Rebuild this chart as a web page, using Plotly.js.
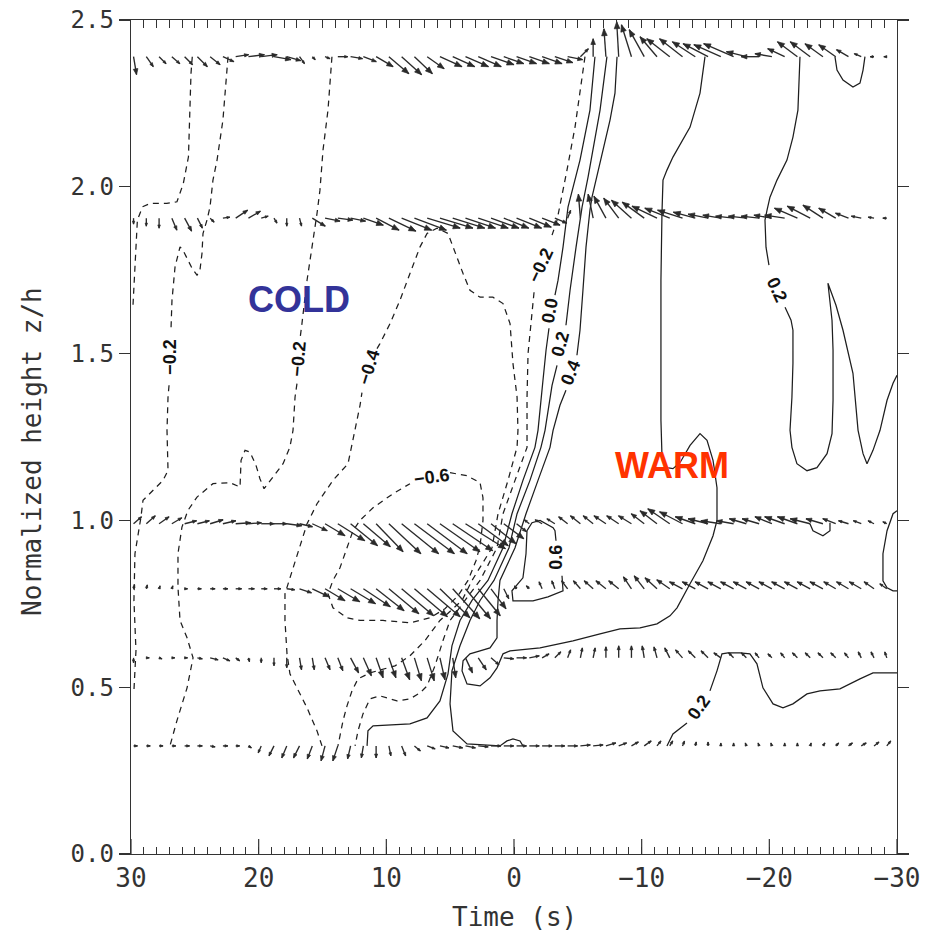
<!DOCTYPE html>
<html><head><meta charset="utf-8">
<script src="https://cdn.plot.ly/plotly-3.0.1.min.js"></script>
<style>body{margin:0;background:#fff}#chart{width:940px;height:938px}</style>
</head><body><div id="chart"></div>
<script>
// ---- vector field: sample times (s) and row heights (z/h) ----
const vecTime = [29.8,28.8,27.8,26.8,25.8,24.8,23.8,22.8,21.8,20.8,19.8,18.8,17.8,16.8,15.8,14.8,13.8,12.8,11.8,10.8,9.8,8.8,7.8,6.8,5.8,4.8,3.8,2.8,1.8,0.8,-0.2,-1.2,-2.2,-3.2,-4.2,-5.2,-6.2,-7.2,-8.2,-9.2,-10.2,-11.2,-12.2,-13.2,-14.2,-15.2,-16.2,-17.2,-18.2,-19.2,-20.2,-21.2,-22.2,-23.2,-24.2,-25.2,-26.2,-27.2,-28.2,-29.2];
const rowHeights = [2.39, 1.906, 0.99, 0.795, 0.588, 0.324];
// vector components (display units: u = along-plot to the right, w = upward)
const uA = [3,7,7,8,8,10,10,11,13,16,16,17,14,5,3,5,10,12,13,17,20,20,18,17,22,22,23,23,23,20,20,20,20,18,15,8,0,-2,-2,-10,-15,-17,-23,-23,-23,-25,-27,-30,-20,-18,-17,-17,-20,-20,-18,-17,-12,-7,-4,-3];
const wA = [-18,-10,-7,-7,-8,-10,-8,-5,2,2,2,-3,-4,-7,-3,-2,0,-2,-5,-10,-17,-18,-17,-12,-10,-10,-10,-10,-8,-7,-7,-7,-7,-6,-3,8,18,28,35,32,27,20,18,18,15,13,12,13,5,0,3,8,15,15,13,12,7,3,0,0];
const uB = [0,0,0,5,7,5,4,7,12,12,7,3,0,2,13,15,15,15,20,23,27,30,32,33,33,32,30,30,28,25,25,22,18,12,3,-2,-5,-12,-15,-20,-22,-25,-25,-25,-22,-20,-18,-18,-18,-18,-18,-20,-23,-23,-20,-17,-13,-10,-6,-4];
const wB = [-6,-8,-10,-12,-13,-10,-4,1,8,7,2,-5,-8,-8,-8,-3,-2,-3,-7,-12,-13,-12,-12,-10,-10,-10,-10,-10,-10,-10,-10,-9,-7,-5,8,24,24,22,20,18,16,12,10,8,6,4,3,2,2,2,3,3,10,12,13,10,5,2,1,0];
const uC = [8,9,10,10,12,12,13,13,15,13,13,13,15,13,15,20,27,27,27,27,32,37,40,40,40,40,40,30,25,20,10,-5,-7,-8,-9,-10,-10,-12,-12,-13,-13,-17,-22,-23,-20,-20,-20,-17,-17,-17,-17,-20,-20,-20,-17,-13,-10,-8,-6,-4];
const wC = [7,8,7,6,3,3,4,3,1,1,0,0,-2,-3,-7,-12,-17,-22,-23,-28,-30,-30,-30,-30,-28,-27,-25,-22,-20,-15,-8,4,4,5,7,8,8,8,8,8,10,13,15,12,7,5,3,3,5,5,7,7,7,5,5,5,3,3,3,2];
const uD = [1,1,1,1,3,4,5,5,6,6,6,7,8,12,17,20,22,25,27,28,30,32,33,33,30,27,25,22,15,5,-2,-3,-3,-3,-6,-7,-9,-10,-10,-8,-10,-12,-13,-13,-13,-13,-13,-13,-13,-13,-13,-13,-13,-13,-13,-12,-12,-12,-10,-7];
const wD = [4,4,3,3,0,0,0,0,0,0,0,0,-1,-4,-8,-12,-13,-15,-18,-22,-25,-27,-28,-28,-29,-30,-30,-27,-20,-10,3,3,7,8,8,8,8,8,8,12,13,11,9,7,7,7,7,7,7,7,7,7,7,7,7,7,7,7,7,5];
const uE = [0,3,3,3,3,5,8,7,4,1,0,0,0,2,2,5,5,8,8,7,7,8,7,7,5,3,7,8,8,10,10,10,7,6,3,2,2,0,0,0,-2,-3,-5,-7,-7,-7,-7,-5,-5,-4,-4,-4,-5,-5,-5,-5,-4,-3,-3,-2];
const wE = [-5,0,-1,0,0,-1,-2,-3,-3,-4,-5,-8,-10,-12,-12,-12,-13,-15,-18,-20,-20,-22,-23,-23,-22,-20,-15,-12,-7,-1,0,2,4,6,8,10,10,11,12,12,12,11,10,8,7,7,5,5,5,5,4,5,5,5,5,5,5,6,6,6];
const uF = [4,4,4,4,5,5,5,5,4,3,-3,-5,-5,-6,-5,-4,-5,-3,-2,0,2,4,6,8,9,10,10,10,10,10,10,10,10,10,10,10,10,10,8,7,7,4,3,2,1,0,0,0,-1,-1,-1,0,0,1,2,3,4,5,5,4];
const wF = [0,0,0,0,0,0,-1,0,0,-2,-7,-10,-12,-12,-13,-15,-15,-13,-12,-12,-10,-10,-5,-3,-2,-2,-2,-1,0,0,0,0,0,0,0,1,1,3,3,4,5,5,5,5,4,4,3,3,3,3,3,3,3,3,3,3,3,3,4,5];

// ---- contour lines (time s, z/h); null = gap for a label ----
// dashed (negative)
const c1t = [25.2,25.3,25.5,25.9,26.4,27.2,28.5,29.1,29.5,29.6,29.7,29.85];
const c1z = [2.39,2.34,2.09,2.01,1.955,1.95,1.95,1.94,1.90,1.82,1.72,1.64];
const c2t = [22.4,22.8,23.26,23.58,23.81,24.05,24.36,24.44,24.6,24.83,25.22,25.54,25.93,26.16,26.55,26.79,26.87,null,27.02,27.1,27.18,27.1,27.49,28.28,29.06,29.22,29.69,29.77,29.61,29.77];
const c2z = [2.39,2.20,2.08,2.02,1.94,1.90,1.86,1.80,1.75,1.735,1.756,1.78,1.81,1.82,1.76,1.66,1.57,null,1.405,1.37,1.27,1.15,1.12,1.09,1.06,1.01,0.90,0.76,0.61,0.49];
const c3t = [14.26,14.57,14.96,15.2,15.43,15.82,16.21,16.61,16.76,null,17.0,17.15,17.31,17.55,18.09,18.96,19.58,19.9,20.21,20.68,21.07,21.38,21.46,22.25,23.58,24.83,25.54,26.01,26.32,26.32,26.16,25.61,25.14,25.61,26.4,26.95];
const c3z = [2.39,2.23,2.11,1.99,1.92,1.82,1.72,1.59,1.545,null,1.41,1.37,1.27,1.22,1.17,1.125,1.095,1.125,1.165,1.205,1.21,1.18,1.10,1.113,1.11,1.07,1.03,0.98,0.90,0.80,0.70,0.648,0.588,0.498,0.40,0.324];
const c4t = [15.04,15.43,16.21,17.0,17.55,17.78,17.94,17.94,17.55,17.0,16.61,16.21,15.43,14.18,13.0,12.61,12.3,12.06,11.91,null,10.73,10.5,9.71,8.93,8.15,7.36,6.81,6.03,5.17,4.78,3.99,3.45,2.66,1.65,0.86,0.31,0.08,-0.24,-0.31,-0.24,0.47,1.25,1.72,3.29,4.07,5.8,6.97,8.15,9.32,11.28,12.22,12.69,13.08,13.39,13.79];
const c4z = [0.324,0.369,0.438,0.498,0.54,0.60,0.70,0.78,0.828,0.90,0.948,0.99,1.05,1.12,1.17,1.24,1.30,1.345,1.383,null,1.515,1.53,1.59,1.66,1.74,1.82,1.86,1.876,1.86,1.82,1.74,1.69,1.669,1.669,1.65,1.59,1.47,1.37,1.27,1.22,1.12,1.02,0.918,0.82,0.76,0.70,0.64,0.594,0.564,0.543,0.525,0.489,0.444,0.40,0.324];
const c5t = [5.01,3.68,2.66,2.43,2.43,2.66,2.98,3.6,4.39,5.41,6.58,8.15,10.26,12.06,13.08,14.18,14.57,14.18,13.63,13.08,12.61,12.06,11.04,9.48,8.15];
const c5z = [1.143,1.134,1.113,1.068,1.0,0.924,0.879,0.82,0.774,0.735,0.708,0.693,0.70,0.70,0.708,0.738,0.78,0.82,0.858,0.918,0.969,1.0,1.038,1.08,1.11];
const c6t = [-5.56,-5.17,-4.78,-4.15,-3.6,-3.37,-2.98,null,-1.57,-1.33,-1.1,-1.02,-1.02,-0.08,0.86,1.33,2.66,3.84,5.01,5.56,6.19,6.81,7.36,8.15,9.17,10.5,11.28,11.83,12.22,12.45];
const c6z = [2.39,2.281,2.179,2.05,1.939,1.90,1.855,null,1.684,1.60,1.50,1.369,1.219,1.12,1.02,0.918,0.82,0.76,0.70,0.64,0.564,0.504,0.483,0.465,0.459,0.474,0.465,0.42,0.369,0.324];
// solid (zero and positive)
const c7t = [-6.34,-5.95,-5.17,-4.23,-3.84,-3.45,-3.21,null,-2.74,-2.51,-2.27,-1.88,-1.64,-0.7,0.16,0.86,2.04,3.29,4.23,4.86,5.17,5.8,6.81,8.15,11.04,11.44,11.51];
const c7z = [2.39,2.23,2.08,1.939,1.819,1.72,1.675,null,1.576,1.51,1.42,1.27,1.219,1.12,1.02,0.918,0.82,0.76,0.70,0.624,0.54,0.459,0.408,0.39,0.384,0.369,0.324];
const c8t = [-7.28,-6.74,-5.8,-5.33,-4.86,-4.39,-4.07,null,-3.37,-2.98,-2.43,-2.11,-1.25,-0.24,0.39,1.57,2.66,3.45,4.23,4.86,5.01,4.78,3.68,1.1,0.55,0.08,-0.47,-0.7];
const c8z = [2.39,2.23,2.029,1.939,1.819,1.69,1.585,null,1.465,1.405,1.27,1.219,1.12,1.02,0.918,0.82,0.76,0.70,0.624,0.549,0.45,0.369,0.33,0.324,0.339,0.345,0.339,0.324];
const c9t = [-8.07,-7.91,-7.52,-6.58,-6.11,-5.95,-5.64,-5.4,-5.17,-4.93,null,-4.07,-3.6,-3.06,-2.82,-1.88,-0.94,-0.08,1.1,1.25,1.33,1.33,1.88,2.66,3.45,3.99,4.07,3.68,2.66,1.88,1.33,0.86,0.31,-2.04,-4.62,-6.74,-8.3,-9.87,-11.2,-12.22,-12.77,-13.79,-14.8,-15.59,-15.9,-15.9,-15.59,-15.12,-14.57,-13.79,-13.0,-12.45,-11.98,-11.59,-11.51,-11.51,-11.51,-11.59,-11.67,-11.98,-12.45,-13.79,-14.57,-14.96];
const c9z = [2.39,2.281,2.20,2.05,1.969,1.93,1.819,1.69,1.57,1.495,null,1.39,1.345,1.27,1.219,1.12,1.02,0.918,0.82,0.76,0.70,0.648,0.618,0.609,0.60,0.579,0.549,0.51,0.504,0.528,0.558,0.60,0.609,0.618,0.639,0.66,0.675,0.678,0.69,0.714,0.738,0.81,0.879,0.954,1.0,1.098,1.18,1.24,1.26,1.225,1.173,1.155,1.158,1.194,1.30,1.51,1.72,1.921,2.02,2.05,2.089,2.179,2.281,2.39];
const c10t = [-3.29,-3.21,-3.06,-2.04,-1.41,-1.02,-0.94,-0.7,0.16,0.08,-1.49,-2.66,-3.84,-3.76];
const c10z = [0.939,0.969,0.978,1.0,0.993,0.969,0.90,0.828,0.789,0.759,0.759,0.771,0.789,0.834];
const c11t = [-22.4,-22.24,-21.85,-21.38,-20.6,-20.05,-19.82,-19.66,-19.74,-19.97,null,-21.23,-21.7,-21.85,-21.85,-21.77,-21.62,-21.77,-22.16,-22.95,-23.73,-24.52,-24.91,-24.99,-24.99,-24.91,-24.59,-25.22,-25.77,-26.55,-26.95,-27.34,-27.65,-28.12,-28.67,-29.22,-29.69,-30.0];
const c11z = [2.39,2.23,2.149,2.08,2.02,1.969,1.93,1.90,1.819,1.765,null,1.639,1.60,1.57,1.471,1.369,1.27,1.219,1.17,1.149,1.158,1.20,1.26,1.36,1.51,1.60,1.711,1.645,1.57,1.441,1.27,1.20,1.17,1.21,1.27,1.36,1.411,1.435];
const c12t = [-25.14,-25.3,-25.77,-26.55,-27.1,-27.34,-27.49];
const c12z = [2.39,2.35,2.32,2.299,2.311,2.35,2.39];
const c13t = [-11.98,-12.45,-13.55,null,-15.35,-15.9,-16.29,-16.76,-17.7,-18.48,-19.03,-19.5,-20.29,-21.07,-21.85,-22.95,-23.97,-25.53,-27.1,-28.12,-29.69,-30.0];
const c13z = [0.324,0.36,0.393,null,0.489,0.549,0.60,0.603,0.603,0.60,0.57,0.498,0.45,0.438,0.45,0.48,0.489,0.495,0.525,0.543,0.543,0.543];
const c14t = [-30,-29.69,-29.22,-28.9,-28.9,-29.22,-29.69,-30];
const c14z = [1.029,1.02,0.969,0.90,0.819,0.798,0.789,0.789];
const c15t = [-23.18,-23.42,-24.2,-24.75,-24.75];
const c15z = [0.99,0.969,0.954,0.969,0.993];

// contour labels
const labText  = ['\u22120.2','\u22120.2','\u22120.4','\u22120.6','\u22120.2','0.0','0.2','0.4','0.6','0.2','0.2'];
const labT     = [26.95, 16.92, 11.36, 6.42, -2.11, -2.82, -3.6, -4.46, -3.29, -20.6, -14.49];
const labZ     = [1.49, 1.485, 1.46, 1.13, 1.765, 1.627, 1.53, 1.444, 0.888, 1.69, 0.441];
const labAngle = [-90, -85, -73, -8, -65, -80, -75, -68, -90, 65, -55];

// axis ticks
const xMajor = [30,20,10,0,-10,-20,-30];
const xMajorText = ['30','20','10','0','\u221210','\u221220','\u221230'];
const yTickVals = [0,0.5,1.0,1.5,2.0,2.5];
const yTickText = ['0.0','0.5','1.0','1.5','2.0','2.5'];

// ---- build ----
const W = 940, H = 938, M = {l:131, r:43, t:20, b:84};
const xRange = [30,-30], yRange = [0,2.5];
const pxPerT = (W - M.l - M.r) / Math.abs(xRange[1]-xRange[0]);
const pxPerZ = (H - M.t - M.b) / (yRange[1]-yRange[0]);

// every-second tick positions along the time axis, labels only at majors
const xTickVals = [], xTickText = [];
for (let s = 30; s >= -30; s--) {
  xTickVals.push(s);
  const j = xMajor.indexOf(s);
  xTickText.push(j >= 0 ? xMajorText[j] : '');
}

const rows = [[uA,wA],[uB,wB],[uC,wC],[uD,wD],[uE,wE],[uF,wF]];
const sx=[], sy=[], hx=[], hy=[];
rows.forEach((r, k) => {
  const z0 = rowHeights[k];
  vecTime.forEach((t, i) => {
    const u = r[0][i], w = r[1][i];
    const L = Math.hypot(u, w);
    if (L < 0.5) return;
    const et = t - u/pxPerT, ez = z0 + w/pxPerZ;
    sx.push(t, et, null); sy.push(z0, ez, null);
    const h = Math.min(7, Math.max(3, 0.32*L));
    const hw = 0.4*h;
    const dx = u/L, dy = w/L;
    const bx = -h*dx, by = -h*dy;
    const p1 = [bx - hw*dy, by + hw*dx];
    const p2 = [bx + hw*dy, by - hw*dx];
    const toT = ox => et - ox/pxPerT, toZ = oy => ez + oy/pxPerZ;
    hx.push(et, toT(p1[0]), toT(p2[0]), et, null);
    hy.push(ez, toZ(p1[1]), toZ(p2[1]), ez, null);
  });
});

const lineCol = '#1e1e1e';
const traces = [];
const dashed = [[c1t,c1z],[c2t,c2z],[c3t,c3z],[c4t,c4z],[c5t,c5z],[c6t,c6z]];
const solid = [[c7t,c7z],[c8t,c8z],[c9t,c9z],[c10t,c10z],[c11t,c11z],[c12t,c12z],[c13t,c13z],[c14t,c14z],[c15t,c15z]];
dashed.forEach(c => traces.push({x:c[0], y:c[1], mode:'lines', connectgaps:false, hoverinfo:'skip',
  line:{color:lineCol, width:1.25, dash:'6px,5px'}}));
solid.forEach(c => traces.push({x:c[0], y:c[1], mode:'lines', connectgaps:false, hoverinfo:'skip',
  line:{color:lineCol, width:1.25}}));
traces.push({x:sx, y:sy, mode:'lines', connectgaps:false, hoverinfo:'skip', line:{color:'#2a2a2a', width:1.35}});
traces.push({x:hx, y:hy, mode:'lines', connectgaps:false, fill:'toself', fillcolor:'#2a2a2a', hoverinfo:'skip', line:{color:'#2a2a2a', width:0.7}});
// invisible anchor so the top tick-only axis is drawn
traces.push({x:[0], y:[-1], xaxis:'x2', yaxis:'y', mode:'markers', marker:{opacity:0}, hoverinfo:'skip'});

const mono = 'DejaVu Sans Mono, Liberation Mono, monospace';
const ann = [];
labText.forEach((s,i) => ann.push({x:labT[i], y:labZ[i], xref:'x', yref:'y', text:s, showarrow:false,
  textangle:labAngle[i], font:{family:'Liberation Sans, Arial, sans-serif', size:18, color:'#111', weight:'bold'}}));
ann.push({x:16.88, y:1.663, xref:'x', yref:'y', text:'COLD', showarrow:false,
  font:{family:'Liberation Sans, Arial, sans-serif', size:36, color:'#333399', weight:'bold'}});
ann.push({x:-12.34, y:1.165, xref:'x', yref:'y', text:'WARM', showarrow:false,
  font:{family:'Liberation Sans, Arial, sans-serif', size:36, color:'#ff3300', weight:'bold'}});
ann.push({x:0.5, y:0, xref:'paper', yref:'paper', yanchor:'middle', yshift:-63, text:'Time (s)', showarrow:false,
  font:{family:mono, size:26, color:'#333'}});
ann.push({x:0, y:0.5, xref:'paper', yref:'paper', xanchor:'center', xshift:-99, yshift:-15, text:'Normalized height z/h', textangle:-90, showarrow:false,
  font:{family:mono, size:26, color:'#333'}});

// longer major ticks on the bottom axis
const shapes = xMajor.map(v => ({type:'line', xref:'x', yref:'paper', x0:v, x1:v, y0:0, y1:15/(H-M.t-M.b),
  line:{color:'#333', width:1.2}}));

const layout = {
  width:W, height:H, margin:M, showlegend:false,
  paper_bgcolor:'#fff', plot_bgcolor:'#fff',
  xaxis:{range:xRange, tickmode:'array', tickvals:xTickVals, ticktext:xTickText, ticks:'inside', ticklen:7, tickwidth:1, tickcolor:'#333',
    showline:true, linecolor:'#333', linewidth:1.3, mirror:true, showgrid:false, zeroline:false,
    tickfont:{family:mono, size:26, color:'#333'}},
  xaxis2:{overlaying:'x', side:'top', anchor:'y', range:xRange, tickmode:'linear', tick0:0, dtick:1, ticks:'inside', ticklen:8, tickwidth:1, tickcolor:'#333',
    showticklabels:false, showgrid:false, zeroline:false, showline:false},
  yaxis:{range:yRange, tickmode:'array', tickvals:yTickVals, ticktext:yTickText, ticks:'outside', ticklen:11, tickwidth:1.2, tickcolor:'#333',
    showline:true, linecolor:'#333', linewidth:1.3, mirror:'ticks', showgrid:false, zeroline:false,
    tickfont:{family:mono, size:24, color:'#333'}},
  shapes:shapes,
  annotations:ann
};
Plotly.newPlot('chart', traces, layout, {staticPlot:true});
</script>
</body></html>
